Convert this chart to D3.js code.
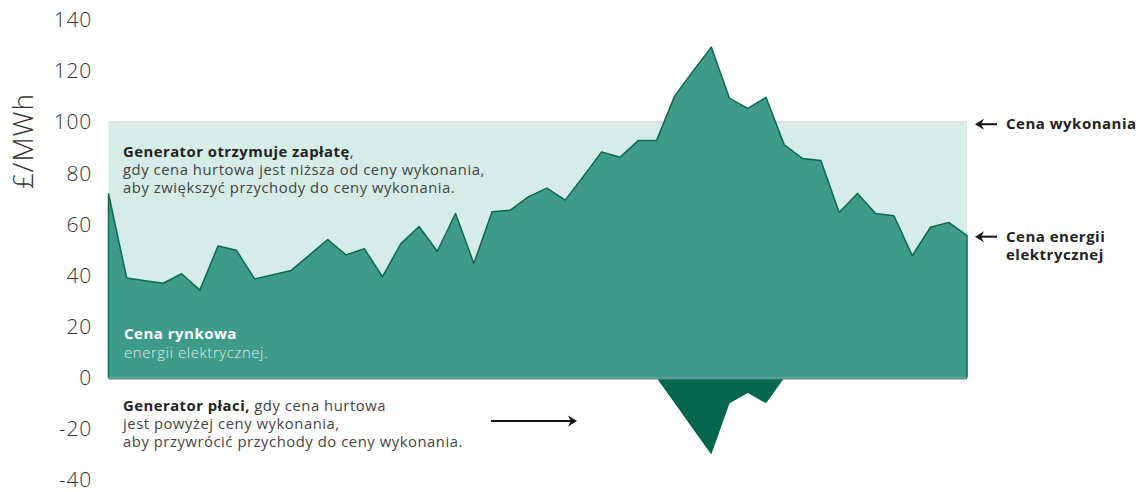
<!DOCTYPE html>
<html lang="pl">
<head>
  <meta charset="UTF-8">
  <title>Cena wykonania</title>
  <script src="https://d3js.org/d3.v7.min.js"></script>
  <style>
    body { margin: 0; background: #fff; font-family: "Open Sans", sans-serif; }
    svg { display: block; }
  </style>
</head>
<body>
  <svg width="1140" height="492"></svg>

  <script>
    // market price, £/MWh, one value per period
    const marketPrice = [
      72, 39, 38, 37, 40.7, 34.3, 51.6, 49.9, 38.7, 40.3,
      42, 48, 54.1, 48.1, 50.5, 39.6, 52.4, 59.2, 49.5, 64.3,
      44.7, 65, 65.6, 70.9, 74.2, 69.5, 78.8, 88.4, 86.3, 92.8,
      92.8, 110.3, 120, 129.4, 109.3, 105.4, 109.7, 91.1, 85.8, 85,
      64.7, 72.1, 64.3, 63.4, 47.8, 58.9, 60.8, 55.6
    ];
    // generator pays back (difference above strike), starts at period 30
    const paybackStart = 30;
    const payback = [0, -10, -20, -30, -10, -6, -10, 0];
    const strikePrice = 100;
    const yTicks = [140, 120, 100, 80, 60, 40, 20, 0, -20, -40];

    const svg = d3.select("svg");

    const x = d3.scaleLinear().domain([0, marketPrice.length - 1]).range([108.5, 967]);
    const y = d3.scaleLinear().domain([-40, 140]).range([480, 20]);

    // y axis labels
    const yAxis = svg.append("g")
      .attr("transform", "translate(92,0)")
      .call(d3.axisLeft(y).tickValues(yTicks).tickSize(0).tickPadding(0).tickFormat(d => String(d)));
    yAxis.select(".domain").remove();
    yAxis.selectAll("text")
      .attr("font-family", "Open Sans, sans-serif")
      .attr("font-size", 21)
      .attr("font-weight", 300)
      .attr("letter-spacing", 0.8)
      .attr("fill", "#333");

    svg.append("text")
      .attr("transform", "translate(33,141) rotate(-90)")
      .attr("text-anchor", "middle")
      .attr("font-size", 28)
      .attr("font-weight", 300)
      .attr("letter-spacing", 1)
      .attr("fill", "#333")
      .text("£/MWh");

    // strike band
    svg.append("rect")
      .attr("x", x(0))
      .attr("y", y(strikePrice))
      .attr("width", x(marketPrice.length - 1) - x(0))
      .attr("height", y(0) - y(strikePrice))
      .attr("fill", "#d5ece7");
    svg.append("line")
      .attr("x1", x(0)).attr("x2", x(marketPrice.length - 1))
      .attr("y1", y(strikePrice)).attr("y2", y(strikePrice))
      .attr("stroke", "#dcdcdc").attr("stroke-width", 2);

    // payback area below zero
    const payArea = d3.area()
      .x((d, i) => x(paybackStart + i))
      .y0(y(0))
      .y1(d => y(d));
    svg.append("path")
      .datum(payback)
      .attr("fill", "#03674b")
      .attr("d", payArea);

    // market price area
    const area = d3.area()
      .x((d, i) => x(i))
      .y0(y(0))
      .y1(d => y(d));
    svg.append("path")
      .datum(marketPrice)
      .attr("fill", "#3e9b89")
      .attr("d", area);

    const outline = [[0, 0]].concat(marketPrice.map((d, i) => [i, d]), [[marketPrice.length - 1, 0]]);
    svg.append("path")
      .datum(outline)
      .attr("fill", "none")
      .attr("stroke", "#0d6a4f")
      .attr("stroke-width", 1.5)
      .attr("stroke-linejoin", "round")
      .attr("d", d3.line().x(d => x(d[0])).y(d => y(d[1])));

    svg.append("line")
      .attr("x1", x(0)).attr("x2", x(marketPrice.length - 1))
      .attr("y1", y(0) + 1).attr("y2", y(0) + 1)
      .attr("stroke", "#5f8d83").attr("stroke-width", 1.5);

    // arrows
    function arrow(x1, x2, yy) {
      const dir = x2 > x1 ? 1 : -1;
      svg.append("line")
        .attr("x1", x1).attr("x2", x2 - dir * 6)
        .attr("y1", yy).attr("y2", yy)
        .attr("stroke", "#111").attr("stroke-width", 2);
      svg.append("path")
        .attr("d", `M${x2},${yy} L${x2 - dir * 9},${yy - 5.5} L${x2 - dir * 6},${yy} L${x2 - dir * 9},${yy + 5.5} Z`)
        .attr("fill", "#111");
    }
    arrow(997, 975, y(strikePrice) + 2);
    arrow(997, 975, y(marketPrice[marketPrice.length - 1]) + 1);
    arrow(491, 577, 421);

    // each line is its own text element; parts in a line are tspans
    function textBlock(tx, ty, lines, opts) {
      const lh = opts.lh || 18;
      lines.forEach((parts, i) => {
        const t = svg.append("text")
          .attr("x", tx).attr("y", ty + i * lh)
          .attr("font-size", opts.size)
          .attr("fill", opts.fill);
        parts.forEach(p => {
          t.append("tspan").text(p.t)
            .attr("font-weight", p.b ? 700 : (opts.weight || 400))
            .attr("letter-spacing", p.b ? 0.5 : 0.55)
            .attr("fill", p.c || opts.fill);
        });
      });
    }

    textBlock(1006, y(strikePrice) + 7, [[{ t: "Cena wykonania", b: true }]], { size: 15, fill: "#222" });
    textBlock(1006, y(marketPrice[marketPrice.length - 1]) + 6,
      [[{ t: "Cena energii", b: true }], [{ t: "elektrycznej", b: true }]],
      { size: 15, fill: "#222", lh: 18 });

    textBlock(123, 157, [
      [{ t: "Generator otrzymuje zapłatę", b: true, c: "#222" }, { t: "," }],
      [{ t: "gdy cena hurtowa jest niższa od ceny wykonania," }],
      [{ t: "aby zwiększyć przychody do ceny wykonania." }]
    ], { size: 14.8, fill: "#444", lh: 18, weight: 400 });

    textBlock(124, 339, [
      [{ t: "Cena rynkowa", b: true }],
      [{ t: "energii elektrycznej.", c: "#d8eee9" }]
    ], { size: 15, fill: "#fff", lh: 19, weight: 300 });

    textBlock(123, 411, [
      [{ t: "Generator płaci,", b: true, c: "#222" }, { t: " gdy cena hurtowa" }],
      [{ t: "jest powyżej ceny wykonania," }],
      [{ t: "aby przywrócić przychody do ceny wykonania." }]
    ], { size: 14.8, fill: "#444", lh: 17.8, weight: 400 });
  </script>
</body>
</html>
